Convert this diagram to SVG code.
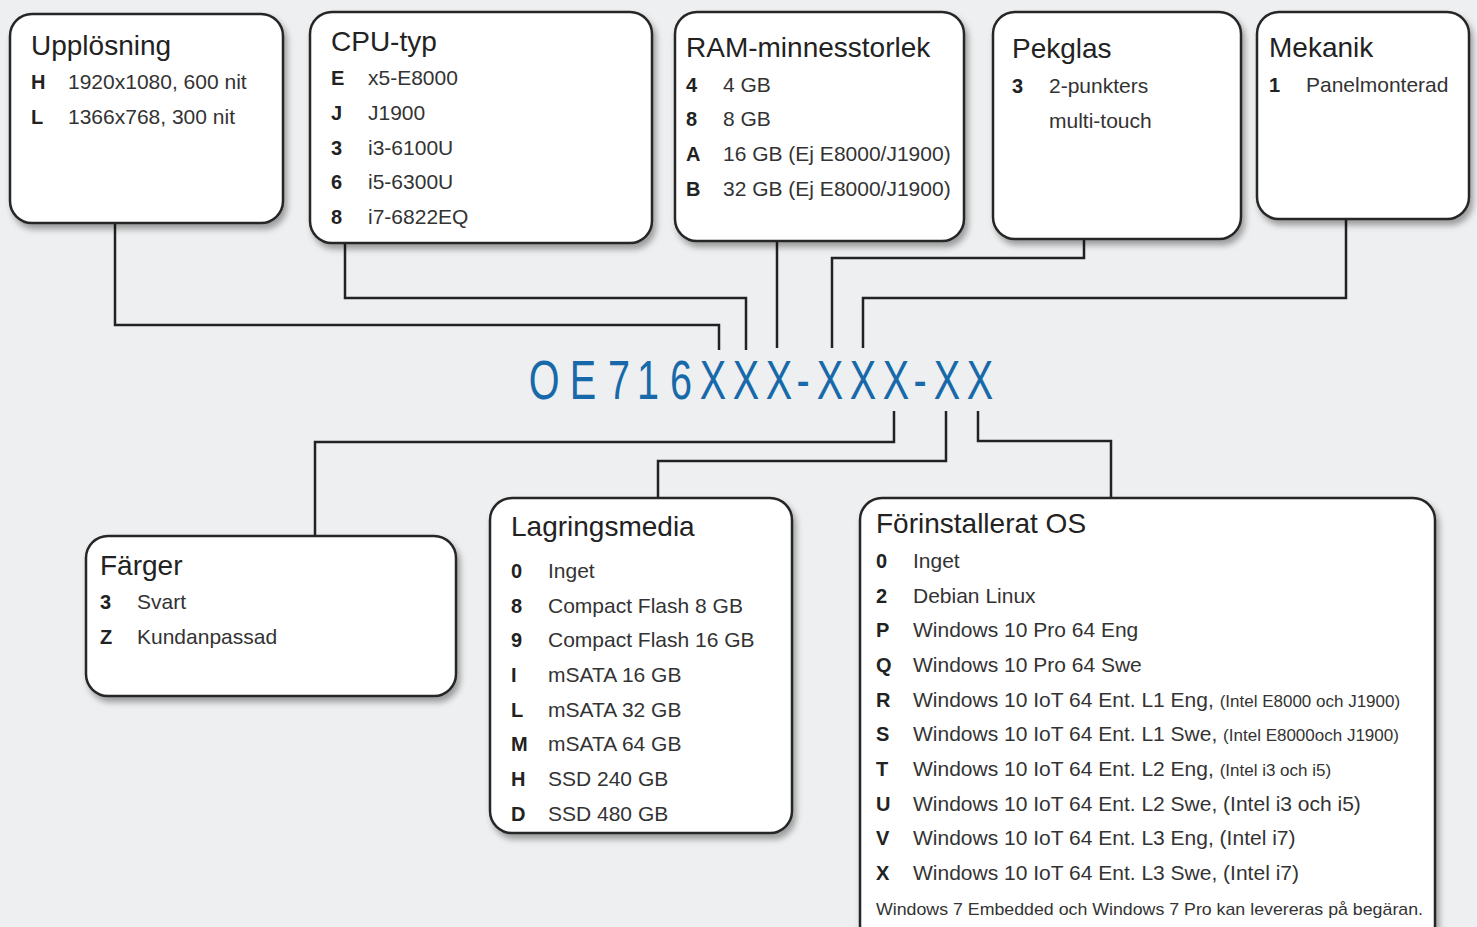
<svg xmlns="http://www.w3.org/2000/svg" width="1477" height="927" viewBox="0 0 1477 927">
<defs>
<filter id="sh" x="-10%" y="-10%" width="125%" height="130%">
<feDropShadow dx="3" dy="5" stdDeviation="3" flood-color="#000" flood-opacity="0.35"/>
</filter>
<style>
.box{fill:#fff;stroke:#262626;stroke-width:2.5;filter:url(#sh)}
.t{font-family:"Liberation Sans",Arial,sans-serif;font-size:28px;fill:#222}
.k{font-family:"Liberation Sans",Arial,sans-serif;font-size:20px;font-weight:bold;fill:#222}
.v{font-family:"Liberation Sans",Arial,sans-serif;font-size:21px;fill:#333}
.s{font-family:"Liberation Sans",Arial,sans-serif;font-size:17px;fill:#333}
.c{fill:none;stroke:#222;stroke-width:2.5}
.code{font-family:"Liberation Sans",Arial,sans-serif;font-size:55px;fill:#1769aa;text-anchor:middle}
</style>
</defs>
<rect x="0" y="0" width="1477" height="927" fill="#eeeff0"/>

<g id="connectors">
<path class="c" d="M115,223 V325 H719 V350"/>
<path class="c" d="M345,243 V298 H746 V350"/>
<path class="c" d="M777,241 V348"/>
<path class="c" d="M1084,239 V258 H832 V348"/>
<path class="c" d="M1346,219 V298 H863 V348"/>
<path class="c" d="M894,411 V442 H315 V536"/>
<path class="c" d="M946,411 V461 H658 V498"/>
<path class="c" d="M978,411 V441 H1111 V498"/>
</g>

<g id="code">
<text class="code" transform="scale(0.72,1)" y="399" x="755.6 809.7 859.7 900 945.8 990.3 1036.1 1081.9 1115.3 1152.8 1198.6 1244.4 1277.8 1315.3 1361.1">OE716XXX-XXX-XX</text>
</g>

<g id="upplosning">
<rect class="box" x="10" y="14" width="273" height="209" rx="22"/>
<text class="t" x="31" y="55">Upplösning</text>
<text class="k" x="31" y="89">H</text><text class="v" x="68" y="89">1920x1080, 600 nit</text>
<text class="k" x="31" y="124">L</text><text class="v" x="68" y="124">1366x768, 300 nit</text>
</g>

<g id="cpu">
<rect class="box" x="310" y="12" width="342" height="231" rx="22"/>
<text class="t" x="331" y="51">CPU-typ</text>
<text class="k" x="331" y="85">E</text><text class="v" x="368" y="85">x5-E8000</text>
<text class="k" x="331" y="120">J</text><text class="v" x="368" y="120">J1900</text>
<text class="k" x="331" y="155">3</text><text class="v" x="368" y="155">i3-6100U</text>
<text class="k" x="331" y="189">6</text><text class="v" x="368" y="189">i5-6300U</text>
<text class="k" x="331" y="224">8</text><text class="v" x="368" y="224">i7-6822EQ</text>
</g>

<g id="ram">
<rect class="box" x="675" y="12" width="289" height="229" rx="22"/>
<text class="t" x="686" y="57">RAM-minnesstorlek</text>
<text class="k" x="686" y="92">4</text><text class="v" x="723" y="92">4 GB</text>
<text class="k" x="686" y="126">8</text><text class="v" x="723" y="126">8 GB</text>
<text class="k" x="686" y="161">A</text><text class="v" x="723" y="161">16 GB (Ej E8000/J1900)</text>
<text class="k" x="686" y="196">B</text><text class="v" x="723" y="196">32 GB (Ej E8000/J1900)</text>
</g>

<g id="pekglas">
<rect class="box" x="993" y="12" width="248" height="227" rx="22"/>
<text class="t" x="1012" y="58">Pekglas</text>
<text class="k" x="1012" y="93">3</text><text class="v" x="1049" y="93">2-punkters</text>
<text class="v" x="1049" y="128">multi-touch</text>
</g>

<g id="mekanik">
<rect class="box" x="1257" y="12" width="212" height="207" rx="22"/>
<text class="t" x="1269" y="57">Mekanik</text>
<text class="k" x="1269" y="92">1</text><text class="v" x="1306" y="92">Panelmonterad</text>
</g>

<g id="farger">
<rect class="box" x="86" y="536" width="370" height="160" rx="22"/>
<text class="t" x="100" y="575">Färger</text>
<text class="k" x="100" y="609">3</text><text class="v" x="137" y="609">Svart</text>
<text class="k" x="100" y="644">Z</text><text class="v" x="137" y="644">Kundanpassad</text>
</g>

<g id="lagringsmedia">
<rect class="box" x="490" y="498" width="302" height="335" rx="22"/>
<text class="t" x="511" y="536">Lagringsmedia</text>
<text class="k" x="511" y="578">0</text><text class="v" x="548" y="578">Inget</text>
<text class="k" x="511" y="613">8</text><text class="v" x="548" y="613">Compact Flash 8 GB</text>
<text class="k" x="511" y="647">9</text><text class="v" x="548" y="647">Compact Flash 16 GB</text>
<text class="k" x="511" y="682">I</text><text class="v" x="548" y="682">mSATA 16 GB</text>
<text class="k" x="511" y="717">L</text><text class="v" x="548" y="717">mSATA 32 GB</text>
<text class="k" x="511" y="751">M</text><text class="v" x="548" y="751">mSATA 64 GB</text>
<text class="k" x="511" y="786">H</text><text class="v" x="548" y="786">SSD 240 GB</text>
<text class="k" x="511" y="821">D</text><text class="v" x="548" y="821">SSD 480 GB</text>
</g>

<g id="os">
<rect class="box" x="860" y="498" width="575" height="450" rx="22"/>
<text class="t" x="876" y="533">Förinstallerat OS</text>
<text class="k" x="876" y="568">0</text><text class="v" x="913" y="568">Inget</text>
<text class="k" x="876" y="603">2</text><text class="v" x="913" y="603">Debian Linux</text>
<text class="k" x="876" y="637">P</text><text class="v" x="913" y="637">Windows 10 Pro 64 Eng</text>
<text class="k" x="876" y="672">Q</text><text class="v" x="913" y="672">Windows 10 Pro 64 Swe</text>
<text class="k" x="876" y="707">R</text><text class="v" x="913" y="707">Windows 10 IoT 64 Ent. L1 Eng, <tspan class="s">(Intel E8000 och J1900)</tspan></text>
<text class="k" x="876" y="741">S</text><text class="v" x="913" y="741">Windows 10 IoT 64 Ent. L1 Swe, <tspan class="s">(Intel E8000och J1900)</tspan></text>
<text class="k" x="876" y="776">T</text><text class="v" x="913" y="776">Windows 10 IoT 64 Ent. L2 Eng, <tspan class="s">(Intel i3 och i5)</tspan></text>
<text class="k" x="876" y="811">U</text><text class="v" x="913" y="811">Windows 10 IoT 64 Ent. L2 Swe, (Intel i3 och i5)</text>
<text class="k" x="876" y="845">V</text><text class="v" x="913" y="845">Windows 10 IoT 64 Ent. L3 Eng, (Intel i7)</text>
<text class="k" x="876" y="880">X</text><text class="v" x="913" y="880">Windows 10 IoT 64 Ent. L3 Swe, (Intel i7)</text>
<text class="s" x="876" y="915" textLength="547" lengthAdjust="spacingAndGlyphs">Windows 7 Embedded och Windows 7 Pro kan levereras på begäran.</text>
</g>
</svg>
